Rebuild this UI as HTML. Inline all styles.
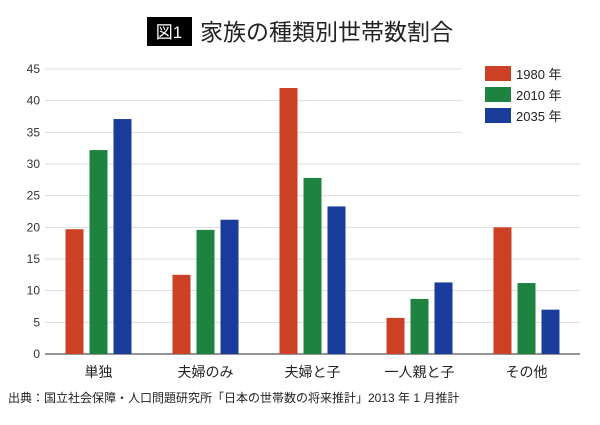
<!DOCTYPE html>
<html><head><meta charset="utf-8"><style>
body{margin:0;background:#fff;width:600px;height:420px;overflow:hidden;font-family:"Liberation Sans","Noto Sans CJK JP",sans-serif}
svg text{font-family:"Liberation Sans","Noto Sans CJK JP",sans-serif}
</style></head><body>
<svg id="c" width="600" height="420">
<rect x="147" y="17" width="45" height="29" fill="#000"/>
<text x="169" y="38" font-size="17" fill="#fff" text-anchor="middle">図1</text>
<text x="200" y="40" font-size="23" fill="#222">家族の種類別世帯数割合</text>
<text x="8" y="402" font-size="12" fill="#222">出典：国立社会保障・人口問題研究所「日本の世帯数の将来推計」2013 年 1 月推計</text>
<g id="grid"></g><g id="bars"></g><g id="legend"></g>
</svg>
<script>
const categories=["単独","夫婦のみ","夫婦と子","一人親と子","その他"];
const series=["1980 年","2010 年","2035 年"];
const v1980=[19.7,12.5,42.0,5.7,20.0];
const v2010=[32.2,19.6,27.8,8.7,11.2];
const v2035=[37.1,21.2,23.3,11.3,7.0];
const ticks=[0,5,10,15,20,25,30,35,40,45];
const colors=["#cc4125","#1e8340","#1a3d9c"];
const NS="http://www.w3.org/2000/svg";
const x0=45,x1=580,y0=354,yTop=69,maxV=45;
const y=v=>y0-(v/maxV)*(y0-yTop);
const band=(x1-x0)/categories.length;
const cx=i=>x0+band*(i+0.5);
function mk(t,a,p){const e=document.createElementNS(NS,t);for(const k in a)e.setAttribute(k,a[k]);p.appendChild(e);return e;}
const grid=document.getElementById('grid');
ticks.forEach(t=>{
  const l=mk('line',{x1:x0,x2:(t>=35?462:x1),y1:y(t),y2:y(t),stroke:t===0?'#555':'#ddd','stroke-width':t===0?1.2:1},grid);
  
  
  const tx=mk('text',{x:40,y:y(t)+4,'font-size':12,'text-anchor':'end',fill:'#333'},grid);
  tx.textContent=t;
  
  
});
const bars=document.getElementById('bars');
const data=[v1980,v2010,v2035];
const bw=18,gap=6;
categories.forEach((c,i)=>{
  data.forEach((arr,s)=>{
    const bx=cx(i)+(s-1)*(bw+gap)-bw/2;
    const r=mk('rect',{x:bx,y:y(arr[i]),width:bw,height:y0-y(arr[i]),fill:colors[s]},bars);
    
    
  });
  const t=mk('text',{x:cx(i),y:377,'font-size':14,'text-anchor':'middle',fill:'#222'},bars);
  t.textContent=c;
  
  
});
const lg=document.getElementById('legend');
series.forEach((s,k)=>{
  const r=mk('rect',{x:485,y:66+k*21,width:26,height:15,fill:colors[k]},lg);
  
  
  const t=mk('text',{x:516,y:79+k*21,'font-size':13,fill:'#222'},lg);
  t.textContent=s;
  
  
});
</script>
</body></html>
